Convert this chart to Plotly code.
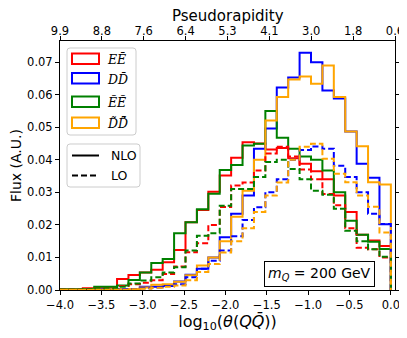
import numpy as np
import plotly.graph_objects as go

# ---------------- data ----------------
bin_edges = np.linspace(-4.0, 0.0, 30)   # 29 bins in log10(theta)

ee_nlo = [0.0002, 0.0002, 0.0005, 0.0005, 0.0005, 0.0034, 0.0046, 0.0054, 0.0062, 0.0085,
          0.0123, 0.0208, 0.0246, 0.0302, 0.0352, 0.0406, 0.0454, 0.0450, 0.0432, 0.0436,
          0.0405, 0.0388, 0.0365, 0.0340, 0.0290, 0.0240, 0.0170, 0.0152, 0.0135]
dd_nlo = [0.0001, 0.0001, 0.0001, 0.0002, 0.0002, 0.0002, 0.0003, 0.0010, 0.0010, 0.0012,
          0.0026, 0.0047, 0.0065, 0.0100, 0.0162, 0.0234, 0.0290, 0.0434, 0.0496, 0.0622,
          0.0653, 0.0729, 0.0700, 0.0613, 0.0588, 0.0487, 0.0388, 0.0345, 0.0202]
tee_nlo = [0.0002, 0.0002, 0.0003, 0.0010, 0.0010, 0.0014, 0.0031, 0.0054, 0.0083, 0.0095,
           0.0174, 0.0208, 0.0248, 0.0296, 0.0369, 0.0384, 0.0444, 0.0449, 0.0550, 0.0468,
           0.0434, 0.0410, 0.0400, 0.0367, 0.0300, 0.0213, 0.0170, 0.0148, 0.0126]
tdd_nlo = [0.0001, 0.0001, 0.0001, 0.0001, 0.0002, 0.0002, 0.0003, 0.0008, 0.0016, 0.0018,
           0.0025, 0.0045, 0.0075, 0.0100, 0.0150, 0.0225, 0.0305, 0.0400, 0.0521, 0.0593,
           0.0647, 0.0656, 0.0634, 0.0690, 0.0593, 0.0487, 0.0442, 0.0331, 0.0324]

ee_lo = [0.0001, 0.0001, 0.0003, 0.0005, 0.0005, 0.0012, 0.0018, 0.0022, 0.0030, 0.0049,
         0.0072, 0.0116, 0.0144, 0.0200, 0.0255, 0.0321, 0.0330, 0.0367, 0.0419, 0.0440,
         0.0410, 0.0370, 0.0340, 0.0295, 0.0260, 0.0190, 0.0130, 0.0125, 0.0100]
dd_lo = [0.0000, 0.0000, 0.0000, 0.0001, 0.0001, 0.0002, 0.0003, 0.0005, 0.0008, 0.0012,
         0.0018, 0.0039, 0.0065, 0.0090, 0.0121, 0.0165, 0.0215, 0.0254, 0.0300, 0.0340,
         0.0400, 0.0430, 0.0441, 0.0434, 0.0382, 0.0347, 0.0300, 0.0234, 0.0203]
tee_lo = [0.0001, 0.0001, 0.0002, 0.0005, 0.0005, 0.0010, 0.0020, 0.0029, 0.0039, 0.0054,
          0.0070, 0.0121, 0.0167, 0.0174, 0.0259, 0.0310, 0.0310, 0.0347, 0.0393, 0.0400,
          0.0372, 0.0340, 0.0305, 0.0293, 0.0250, 0.0182, 0.0150, 0.0125, 0.0102]
tdd_lo = [0.0000, 0.0000, 0.0000, 0.0001, 0.0001, 0.0001, 0.0002, 0.0004, 0.0007, 0.0010,
          0.0014, 0.0030, 0.0055, 0.0080, 0.0115, 0.0150, 0.0190, 0.0240, 0.0290, 0.0330,
          0.0400, 0.0440, 0.0449, 0.0403, 0.0357, 0.0331, 0.0290, 0.0256, 0.0177]

x_tick_vals = [-4.0, -3.5, -3.0, -2.5, -2.0, -1.5, -1.0, -0.5, 0.0]
x_tick_text = ["\u22124.0", "\u22123.5", "\u22123.0", "\u22122.5", "\u22122.0",
               "\u22121.5", "\u22121.0", "\u22120.5", "0.0"]
y_tick_vals = [0.00, 0.01, 0.02, 0.03, 0.04, 0.05, 0.06, 0.07]
eta_tick_text = ["9.9", "8.8", "7.6", "6.4", "5.3", "4.1", "3.0", "1.8", "0.6"]

X_RANGE = [-4.0, 0.05]
Y_RANGE = [0.0, 0.0765]

MAC = "\u0304"
TIL = "\u0303"
labels = ["<i>E" + "E" + MAC + "</i>",
          "<i>D" + "D" + MAC + "</i>",
          "<i>E" + TIL + "E" + TIL + MAC + "</i>",
          "<i>D" + TIL + "D" + TIL + MAC + "</i>"]
colors = ["#ff0000", "#0000ff", "#008000", "#ffa500"]
nlo_series = [ee_nlo, dd_nlo, tee_nlo, tdd_nlo]
lo_series = [ee_lo, dd_lo, tee_lo, tdd_lo]

FONT = "DejaVu Sans"
SERIF = "DejaVu Serif"
OFF = 8                      # page body margin of the html page
W, H = 407 - OFF, 338 - OFF  # figure size
ML, MR, MT, MB = 60 - OFF, 12, 41 - OFF, 48
PW, PH = W - ML - MR, H - MT - MB


def step_xy(edges, counts):
    xs = [edges[0]] + list(edges[:-1]) + [edges[-1]]
    ys = [0.0] + list(counts) + [0.0]
    return xs, ys


fig = go.Figure()
for series, dash in ((nlo_series, "solid"), (lo_series, "6px,3px")):
    for vals, col in zip(series, colors):
        xs, ys = step_xy(bin_edges, vals)
        fig.add_trace(go.Scatter(x=xs, y=ys, mode="lines", line_shape="hv",
                                 line=dict(color=col, width=2, dash=dash),
                                 showlegend=False, hoverinfo="skip"))
# invisible trace so the top (pseudorapidity) axis is drawn
fig.add_trace(go.Scatter(x=list(bin_edges), y=[0.0] * len(bin_edges), xaxis="x2", mode="none",
                         showlegend=False, hoverinfo="skip"))


def px2p(px, py):
    # page pixel -> paper coords
    return (px - OFF - ML) / PW, (OFF + H - MB - py) / PH


def rounded_rect(x0, y0, x1, y1, r=3):
    def P(x, y):
        a, b = px2p(x, y)
        return f"{a:.5f},{b:.5f}"
    return (f"M{P(x0 + r, y0)} L{P(x1 - r, y0)} Q{P(x1, y0)} {P(x1, y0 + r)} "
            f"L{P(x1, y1 - r)} Q{P(x1, y1)} {P(x1 - r, y1)} L{P(x0 + r, y1)} "
            f"Q{P(x0, y1)} {P(x0, y1 - r)} L{P(x0, y0 + r)} Q{P(x0, y0)} {P(x0 + r, y0)} Z")


shapes = []
annotations = []
# legend 1 (processes)
shapes.append(dict(type="path", xref="paper", yref="paper", path=rounded_rect(67, 48, 136, 135),
                   line=dict(color="#cccccc", width=1), fillcolor="rgba(255,255,255,0.8)", layer="above"))
rect_rows = [(53.5, 64), (73, 83.5), (96.5, 107), (117.5, 128)]
for (ya, yb), col, lab in zip(rect_rows, colors, labels):
    a0, b0 = px2p(72, yb)
    a1, b1 = px2p(99, ya)
    shapes.append(dict(type="rect", xref="paper", yref="paper", x0=a0, y0=b0, x1=a1, y1=b1,
                       line=dict(color=col, width=2), fillcolor="rgba(0,0,0,0)", layer="above"))
    tx, ty = px2p(105, (ya + yb) / 2 + 1)
    annotations.append(dict(x=tx, y=ty, xref="paper", yref="paper", text=lab, showarrow=False,
                            xanchor="left", yanchor="middle",
                            font=dict(family=SERIF, size=12.5, color="black")))
# legend 2 (orders)
shapes.append(dict(type="path", xref="paper", yref="paper", path=rounded_rect(67, 144, 140, 187),
                   line=dict(color="#cccccc", width=1), fillcolor="rgba(255,255,255,0.8)", layer="above"))
for yy, dash, lab in ((155.5, "solid", "NLO"), (175.5, "6px,3px", "LO")):
    a0, b0 = px2p(72, yy)
    a1, b1 = px2p(99, yy)
    shapes.append(dict(type="line", xref="paper", yref="paper", x0=a0, y0=b0, x1=a1, y1=b1,
                       line=dict(color="black", width=2, dash=dash), layer="above"))
    tx, ty = px2p(109, yy)
    annotations.append(dict(x=tx, y=ty, xref="paper", yref="paper", text=lab, showarrow=False,
                            xanchor="left", yanchor="middle",
                            font=dict(family=FONT, size=12.5, color="black")))

# mass annotation
mx, my = px2p(319, 274)
annotations.append(dict(x=mx, y=my, xref="paper", yref="paper",
                        text="<i>m</i><sub><i>Q</i></sub> = 200 GeV", showarrow=False,
                        xanchor="center", yanchor="middle", bgcolor="white",
                        bordercolor="black", borderwidth=1, borderpad=3,
                        font=dict(family=FONT, size=14, color="black")))

# top axis title
px_t, py_t = px2p(227.5, 15.5)
annotations.append(dict(x=0.5, y=py_t, xref="paper", yref="paper", text="Pseudorapidity",
                        showarrow=False, xanchor="center", yanchor="middle",
                        font=dict(family=FONT, size=15, color="black")))

axis_common = dict(showgrid=False, zeroline=False, showline=True, linecolor="black", linewidth=1,
                   ticks="outside", ticklen=4, tickwidth=1, tickcolor="black", automargin=False,
                   tickfont=dict(family=FONT, size=11.5, color="black"))

fig.update_layout(
    width=W, height=H,
    margin=dict(l=ML, r=MR, t=MT, b=MB, pad=0),
    paper_bgcolor="white", plot_bgcolor="white",
    font=dict(family=FONT, color="black"),
    showlegend=False,
    xaxis=dict(range=X_RANGE, tickvals=x_tick_vals, ticktext=x_tick_text, mirror=True,
               title=dict(text="log<sub>10</sub>(<i>\u03b8</i>(<i>Q" + "Q" + MAC + "</i>))",
                          font=dict(family=FONT, size=16), standoff=2),
               **axis_common),
    xaxis2=dict(range=X_RANGE, overlaying="x", side="top", anchor="y",
                tickvals=list(np.linspace(X_RANGE[0], X_RANGE[1], len(eta_tick_text))),
                ticktext=eta_tick_text, ticklabelstandoff=-4,
                **axis_common),
    yaxis=dict(range=Y_RANGE, tickvals=y_tick_vals, tickformat=".2f", mirror="ticks",
               title=dict(text="Flux (A.U.)", font=dict(family=FONT, size=14), standoff=6),
               **axis_common),
    shapes=shapes,
    annotations=annotations,
)

fig.write_html("out.html")
